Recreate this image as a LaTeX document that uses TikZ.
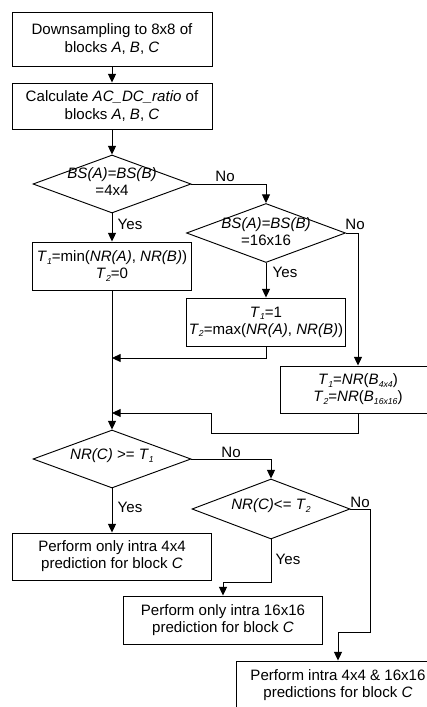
\documentclass[tikz,border=0pt]{standalone}
\usepackage{fontspec}
\setmainfont{Liberation Sans}
\usetikzlibrary{shapes.geometric,arrows.meta}
% small italic index, as in T1 or B4x4
\newcommand\sbt[1]{\raisebox{-0.3ex}{\fontsize{6.5}{6.5}\selectfont\itshape #1}}

\begin{document}
\begin{tikzpicture}[x=0.75pt,y=-0.75pt,
  every node/.style={font=\fontsize{11.3}{12.8}\selectfont},
  procbox/.style={draw, line width=0.7pt, inner sep=0pt, align=center},
  decision/.style={draw, diamond, line width=0.7pt, inner sep=0pt},
  lbl/.style={inner sep=0pt, align=center},
  flow/.style={line width=0.7pt, -{Triangle[length=6.5pt,width=6pt]}},
]
\clip (0,0) rectangle (427,707);
\fill[white] (0,0) rectangle (427,707);

% process boxes
\node[procbox, minimum width=150pt, minimum height=40.5pt] (b1) at (112,39)
  {Downsampling to 8x8 of\\blocks \textit{A}, \textit{B}, \textit{C}};
\node[procbox, minimum width=150pt, minimum height=34.5pt] (b2) at (112,106)
  {Calculate \textit{AC\_DC\_ratio} of\\blocks \textit{A}, \textit{B}, \textit{C}};
\node[procbox, minimum width=119.25pt, minimum height=36pt] (b3) at (112,266)
  {\textit{T}\sbt{1}=min(\textit{NR(A)}, \textit{NR(B)})\\\textit{T}\sbt{2}=0};
\node[procbox, minimum width=119.25pt, minimum height=36pt] (b4) at (266,322)
  {\textit{T}\sbt{1}=1\\\textit{T}\sbt{2}=max(\textit{NR(A)}, \textit{NR(B)})};
\node[procbox, minimum width=117pt, minimum height=35.25pt] (b5) at (358,389.5)
  {\textit{T}\sbt{1}=\textit{NR}(\textit{B}\sbt{4x4})\\\textit{T}\sbt{2}=\textit{NR}(\textit{B}\sbt{16x16})};
\node[procbox, minimum width=149.25pt, minimum height=35.25pt] (b6) at (112,556.5)
  {Perform only intra 4x4\\prediction for block \textit{C}};
\node[procbox, minimum width=149.25pt, minimum height=36pt] (b7) at (223,620)
  {Perform only intra 16x16\\prediction for block \textit{C}};
\node[procbox, minimum width=153pt, minimum height=36pt] (b8) at (338,685)
  {Perform intra 4x4 \& 16x16\\predictions for block \textit{C}};

% decisions
\node[decision, minimum width=118.5pt, minimum height=43.5pt] (d1) at (112,184) {};
\node[lbl] (d1t) at (112,182) {\textit{BS(A)=BS(B)}\\=4x4};
\node[decision, minimum width=119.25pt, minimum height=44.25pt] (d2) at (266,233) {};
\node[lbl] (d2t) at (266,232) {\textit{BS(A)=BS(B)}\\=16x16};
\node[decision, minimum width=118.5pt, minimum height=43.5pt] (d3) at (112,459) {};
\node[lbl] (d3t) at (112,456) {\textit{NR(C)} >= \textit{T}\sbt{1}};
\node[decision, minimum width=118.5pt, minimum height=45pt] (d4) at (271,509) {};
\node[lbl] (d4t) at (271,506) {\textit{NR(C)}<= \textit{T}\sbt{2}};

% bends and joins
\coordinate (j1) at (112,358);
\coordinate (j2) at (112,413);
\coordinate (k1) at (211,433);
\coordinate (k2) at (223,582);
\coordinate (k3) at (370,632);

% connectors
\draw[flow] (b1) -- (b2);
\draw[flow] (b2) -- (d1);
\draw[flow] (d1.east) -| (d2.north);
\draw[flow] (d1.south) -- (b3.north);
\draw[flow] (d2.south) -- (b4.north);
\draw[flow] (d2.east) -| (b5.north);
\draw[flow] (b3.south) -- (d3.north);
\draw[flow] (b4.south) |- (j1);
\draw[flow] (b5.south) |- (k1) |- (j2);
\draw[flow] (d3.south) -- (b6.north);
\draw[flow] (d3.east) -| (d4.north);
\draw[flow] (d4.south) |- (k2) -- (b7.north);
\draw[flow] (d4.east) -| (k3) -| (b8.north);

% branch labels
\node[lbl] (n1) at (225,176) {No};
\node[lbl] (y1) at (130,224) {Yes};
\node[lbl] (n2) at (355,224) {No};
\node[lbl] (y2) at (285,272) {Yes};
\node[lbl] (n3) at (231,452) {No};
\node[lbl] (y3) at (130,507) {Yes};
\node[lbl] (n4) at (360,502) {No};
\node[lbl] (y4) at (288,559) {Yes};
\end{tikzpicture}
\end{document}
